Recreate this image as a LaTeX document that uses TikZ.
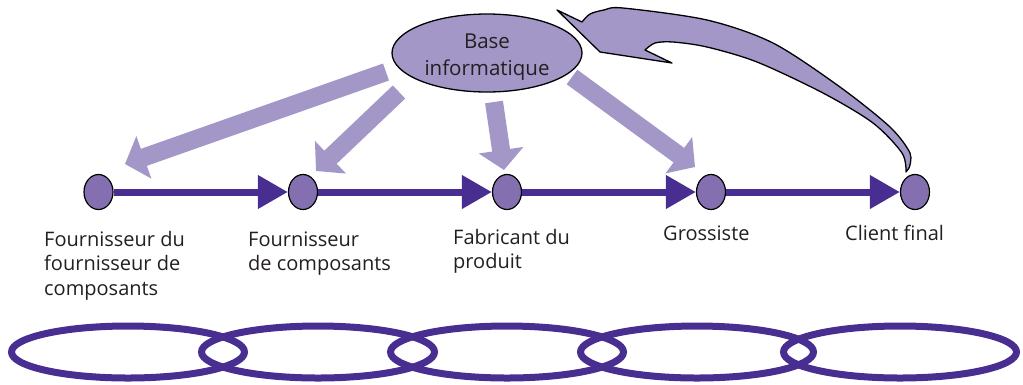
\documentclass[tikz,border=0pt]{standalone}
\usepackage{fontspec}
\setmainfont{Open Sans}
\usetikzlibrary{arrows.meta,shapes.geometric}
\definecolor{chaindark}{HTML}{482E91}
\definecolor{nodefill}{HTML}{8470B0}
\definecolor{lightpurple}{HTML}{A397C8}
\definecolor{textgray}{HTML}{231F20}
\tikzset{
  stage/.style={ellipse, draw=black, line width=1.2pt, fill=nodefill,
    minimum width=29pt, minimum height=35pt, inner sep=0pt},
  flow/.style={draw=chaindark, line width=7pt,
    -{Triangle[length=30pt,width=32pt]}},
  feed/.style={draw=lightpurple, line width=18pt,
    -{Triangle[length=20pt,width=44pt]}},
  link/.style={draw=chaindark, line width=7pt},
  label/.style={text=textgray, font=\fontsize{20}{24.5}\selectfont,
    align=left, inner sep=0pt, anchor=base west},
  backflow/.style={fill=lightpurple, draw=black, line width=1.3pt, line join=round}
}
\begin{document}
\begin{tikzpicture}[x=1pt,y=-1pt]
\useasboundingbox (0,0) rectangle (1023,384);

% supply chain stages
\node[stage] (n1) at (98.5,192) {};
\node[stage] (n2) at (303,192) {};
\node[stage] (n3) at (507,192) {};
\node[stage] (n4) at (711,192) {};
\node[stage] (n5) at (915,192) {};

% physical flow between stages
\draw[flow] (n1) -- (n2);
\draw[flow] (n2) -- (n3);
\draw[flow] (n3) -- (n4);
\draw[flow] (n4) -- (n5);

% information feeds from the central database
\coordinate (f1s) at (386,72);  \coordinate (f1e) at (125,164);
\coordinate (f2s) at (399,92);  \coordinate (f2e) at (316,171);
\coordinate (f3s) at (494,102); \coordinate (f3e) at (504,170);
\coordinate (f4s) at (572,77);  \coordinate (f4e) at (695,167);
\draw[feed] (f1s) -- (f1e);
\draw[feed] (f2s) -- (f2e);
\draw[feed] (f3s) -- (f3e);
\draw[feed] (f4s) -- (f4e);

% central database
\node[ellipse, draw=black, line width=1.3pt, fill=lightpurple,
  minimum width=190pt, minimum height=78pt, inner sep=0pt,
  text=textgray, font=\fontsize{20.5}{27}\selectfont, align=center]
  (base) at (487,53) {};
\node[text=textgray, font=\fontsize{20.5}{27}\selectfont, align=center,
  inner sep=0pt, anchor=base] (basetext) at (487,75) {Base\\informatique};

% customer information returned to the database
\path[backflow] (557,10) -- (600,52) -- (672,63) -- (645,50)
  -- plot[smooth] coordinates {(645,50) (655,43) (673,42) (707,47) (757,62)
     (823,93) (873,123) (902,153) (906,172)}
  -- plot[smooth] coordinates {(909,168) (910,153) (890,127) (840,87)
     (773,43) (707,20) (623,8) (604,10) (590,14) (582,22)}
  -- cycle;

% labels (anchored on the baseline of their last line)
\node[label] (l1) at (44,295) {Fournisseur du\\fournisseur de\\composants};
\node[label] (l2) at (248,270.5) {Fournisseur\\de composants};
\node[label] (l3) at (453,268.5) {Fabricant du\\produit};
\node[label] (l4) at (663,240) {Grossiste};
\node[label] (l5) at (845,240) {Client final};

% chain links
\draw[link] (128,352) ellipse [x radius=116.5pt, y radius=26pt];
\draw[link] (318,352) ellipse [x radius=116.5pt, y radius=26pt];
\draw[link] (507,352) ellipse [x radius=116.5pt, y radius=26pt];
\draw[link] (697,352) ellipse [x radius=116.5pt, y radius=26pt];
\draw[link] (900,352) ellipse [x radius=116.5pt, y radius=26pt];
\end{tikzpicture}
\end{document}
